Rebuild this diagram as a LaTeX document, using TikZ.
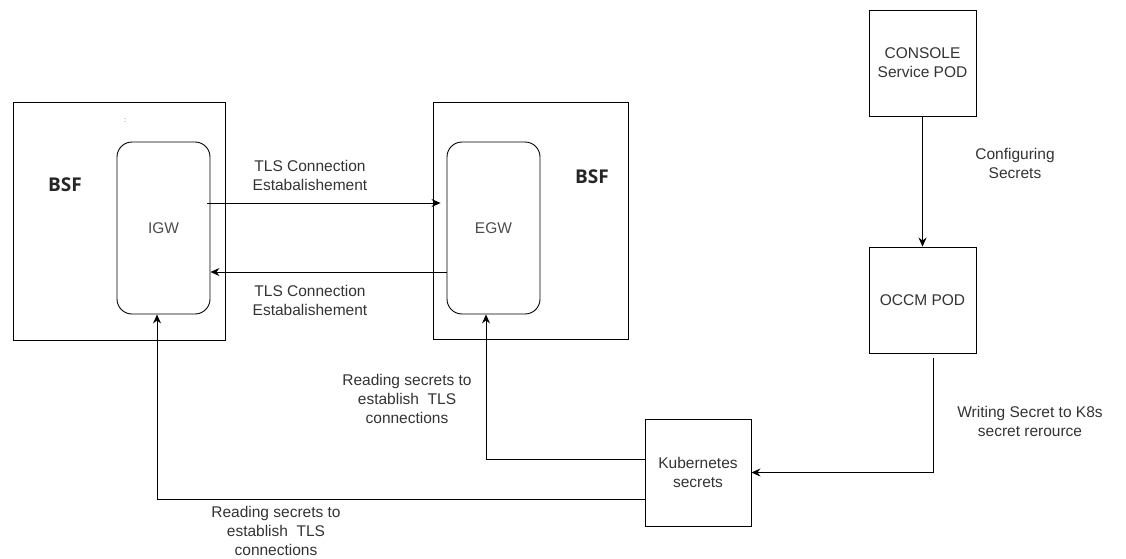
\documentclass[tikz,border=0pt]{standalone}
\usepackage{fontspec}
\setmainfont{Liberation Sans}
\newfontfamily\bsffont{Open Sans}
\usetikzlibrary{arrows.meta}
\definecolor{txtgray}{HTML}{333333}

\begin{document}
\begin{tikzpicture}[x=1pt,y=-1pt]
\tikzstyle{box}=[draw=black,line width=0.9pt,inner sep=0pt]
\tikzstyle{gw}=[box,rounded corners=15pt,text=black!70]
\tikzstyle{lbl}=[text=txtgray,align=center,font=\fontsize{15.5}{19}\selectfont]
\tikzstyle{conn}=[draw=black,line width=0.9pt,-{Stealth[length=9pt,width=8pt,inset=3pt]}]
\useasboundingbox (0,0) rectangle (1126,558);
% gateways and their hosts
\node [box,minimum width=212pt,minimum height=238pt] (bsfl) at (119,221) {};
\node [box,minimum width=195pt,minimum height=237pt] (bsfr) at (531,221) {};
\node [gw,minimum width=93pt,minimum height=172pt,font=\fontsize{15.5}{19}\selectfont] (igw) at (163.5,228) {IGW};
\node [gw,minimum width=93pt,minimum height=172pt,font=\fontsize{15.5}{19}\selectfont] (egw) at (493.5,228) {EGW};
\node [font=\bsffont\bfseries\fontsize{19}{22}\selectfont,text=black!85] (bsflt) at (65,185) {BSF};
\node [font=\bsffont\bfseries\fontsize{19}{22}\selectfont,text=black!85] (bsfrt) at (592,177) {BSF};
\node [font=\fontsize{7}{8}\selectfont,text=black!70] (dots) at (125,121) {:};
% pods
\node [box,lbl,text=txtgray,minimum width=107pt,minimum height=106pt] (console) at (922.5,63) {CONSOLE\\Service POD};
\node [box,lbl,text=txtgray,minimum width=107pt,minimum height=106pt] (occm) at (922.5,300) {OCCM POD};
\node [box,lbl,text=txtgray,minimum width=106pt,minimum height=107pt] (k8s) at (698,472.5) {Kubernetes\\secrets};
% connections
\draw [conn] ([xshift=-3pt,yshift=25pt]igw.east) -- ([xshift=-6pt,yshift=25pt]egw.west);
\draw [conn] ([yshift=-44pt]egw.west) -- ([yshift=-44pt]igw.east);
\draw [conn] (console.south) -- (occm.north);
\draw [conn] ([xshift=10.5pt,yshift=-5pt]occm.south) |- (k8s.east);
\draw [conn] ([yshift=13.5pt]k8s.west) -| ([xshift=-7.5pt]egw.south);
\draw [conn] ([yshift=-26.5pt]k8s.west) -| ([xshift=-6.5pt]igw.south);
% labels
\node [lbl] (tlsa) at (310,175) {TLS Connection\\Estabalishement};
\node [lbl] (tlsb) at (310,300) {TLS Connection\\Estabalishement};
\node [lbl] (cfg) at (1015,163) {Configuring\\Secrets};
\node [lbl] (wrt) at (1030,421) {Writing Secret to K8s\\secret rerource};
\node [lbl] (rda) at (407,399) {Reading secrets to\\establish\ \ TLS\\connections};
\node [lbl] (rdb) at (276,531) {Reading secrets to\\establish\ \ TLS\\connections};
\end{tikzpicture}
\end{document}
